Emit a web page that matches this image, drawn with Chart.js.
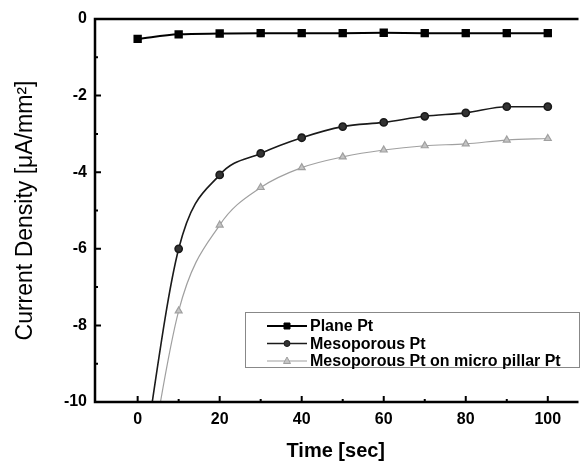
<!DOCTYPE html>
<html><head><meta charset="utf-8">
<script src="https://cdn.jsdelivr.net/npm/chart.js@4"></script>
<style>html,body{margin:0;padding:0;background:#fff}#wrap{width:583px;height:463px}</style>
</head><body><div id="wrap"><canvas id="c" width="583" height="463"></canvas></div>
<script>
const times = [0, 10, 20, 30, 40, 50, 60, 70, 80, 90, 100];
const planePt = [-0.52, -0.40, -0.38, -0.37, -0.37, -0.37, -0.36, -0.37, -0.37, -0.37, -0.37];
const mesoPt = [-12.5, -6.0, -4.07, -3.51, -3.10, -2.81, -2.70, -2.54, -2.45, -2.29, -2.29];
const mesoPillarPt = [-13.5, -7.62, -5.38, -4.40, -3.88, -3.60, -3.42, -3.31, -3.26, -3.16, -3.12];
const seriesNames = ['Plane Pt', 'Mesoporous Pt', 'Mesoporous Pt on micro pillar Pt'];
const xTickLabels = [0, 20, 40, 60, 80, 100];
const yTickLabels = [0, -2, -4, -6, -8, -10];
const xMinor = [10, 30, 50, 70, 90];
const yMinor = [-1, -3, -5, -7, -9];

const FONT = 'Liberation Sans, Arial, sans-serif';

function pts(arr){ return times.map((t,i)=>({x:t,y:arr[i]})); }

const framePlugin = {
  id:'frame',
  afterDatasetsDraw(chart){
    const {ctx, chartArea:a, scales:{x,y}} = chart;
    ctx.save();
    ctx.strokeStyle='#000';
    ctx.lineWidth=2.5;
    ctx.beginPath();
    ctx.moveTo(a.right+2,a.top); ctx.lineTo(a.left,a.top); ctx.lineTo(a.left,a.bottom); ctx.lineTo(a.right+2,a.bottom);
    ctx.stroke();
    ctx.lineWidth=2;
    ctx.beginPath();
    xTickLabels.forEach(v=>{const px=x.getPixelForValue(v); ctx.moveTo(px,a.bottom); ctx.lineTo(px,a.bottom-6);});
    xMinor.forEach(v=>{const px=x.getPixelForValue(v); ctx.moveTo(px,a.bottom); ctx.lineTo(px,a.bottom-3);});
    yTickLabels.forEach(v=>{const py=y.getPixelForValue(v); ctx.moveTo(a.left,py); ctx.lineTo(a.left+6,py);});
    yMinor.forEach(v=>{const py=y.getPixelForValue(v); ctx.moveTo(a.left,py); ctx.lineTo(a.left+3,py);});
    ctx.stroke();
    // legend
    const bx=245, by=312, bw=334, bh=55;
    ctx.fillStyle='#fff'; ctx.fillRect(bx,by,bw,bh);
    ctx.strokeStyle='#888'; ctx.lineWidth=1; ctx.strokeRect(bx+0.5,by+0.5,bw,bh);
    const ds = chart.data.datasets;
    const rows=[326,343.5,361];
    ds.forEach((d,i)=>{
      const yy=rows[i];
      ctx.strokeStyle=d.borderColor; ctx.lineWidth=d.borderWidth;
      ctx.beginPath(); ctx.moveTo(267,yy); ctx.lineTo(307,yy); ctx.stroke();
      ctx.fillStyle=d.pointBackgroundColor; ctx.strokeStyle=d.borderColor; ctx.lineWidth=1;
      const cx=287;
      ctx.beginPath();
      if(d.pointStyle==='rect'){ ctx.rect(cx-3,yy-3,6,6); }
      else if(d.pointStyle==='circle'){ ctx.arc(cx,yy,3,0,Math.PI*2); }
      else { ctx.moveTo(cx,yy-4); ctx.lineTo(cx+3.5,yy+2.5); ctx.lineTo(cx-3.5,yy+2.5); ctx.closePath(); }
      ctx.fill(); ctx.stroke();
      ctx.fillStyle='#000'; ctx.font='bold 16px '+FONT; ctx.textBaseline='middle'; ctx.textAlign='left';
      ctx.fillText(seriesNames[i], 310, yy+1);
    });
    ctx.restore();
  }
};

new Chart(document.getElementById('c'), {
  type:'line',
  data:{datasets:[
    {label:seriesNames[0], data:pts(planePt), borderColor:'#000', pointBackgroundColor:'#000', borderWidth:2, pointStyle:'rect', pointRadius:4.5, cubicInterpolationMode:'monotone'},
    {label:seriesNames[1], data:pts(mesoPt), borderColor:'#1a1a1a', pointBackgroundColor:'#333', borderWidth:1.6, pointStyle:'circle', pointRadius:[0,3.6,3.6,3.6,3.6,3.6,3.6,3.6,3.6,3.6,3.6], cubicInterpolationMode:'monotone'},
    {label:seriesNames[2], data:pts(mesoPillarPt), borderColor:'#a0a0a0', pointBackgroundColor:'#c4c4c4', borderWidth:1.2, pointStyle:'triangle', pointRadius:[0,4,4,4,4,4,4,4,4,4,4], cubicInterpolationMode:'monotone'}
  ]},
  options:{
    responsive:false, animation:false, devicePixelRatio:1,
    layout:{padding:{left:0,right:0,top:19,bottom:0}},
    plugins:{legend:{display:false}, tooltip:{enabled:false}},
    scales:{
      x:{type:'linear', min:-10.4, max:107,
        afterBuildTicks(s){ s.ticks = xTickLabels.map(v=>({value:v})); },
        afterFit(s){ s.height = 61; },
        grid:{display:false, drawTicks:false}, border:{display:false},
        ticks:{color:'#000', font:{family:FONT, size:16, weight:'bold'}, padding:8},
        title:{display:true, text:'Time [sec]', color:'#000', font:{family:FONT, size:20, weight:'bold'}, padding:{top:0,bottom:0}}
      },
      y:{type:'linear', min:-10, max:0,
        afterBuildTicks(s){ s.ticks = yTickLabels.map(v=>({value:v})); },
        afterFit(s){ s.width = 95; },
        grid:{display:false, drawTicks:false}, border:{display:false},
        ticks:{color:'#000', font:{family:FONT, size:16, weight:'bold'}, padding:8},
        title:{display:true, text:'Current Density [\u03bcA/mm\u00b2]', color:'#000', font:{family:FONT, size:23}, padding:{top:12,bottom:0}}
      }
    }
  },
  plugins:[framePlugin]
});
</script>
</body></html>
